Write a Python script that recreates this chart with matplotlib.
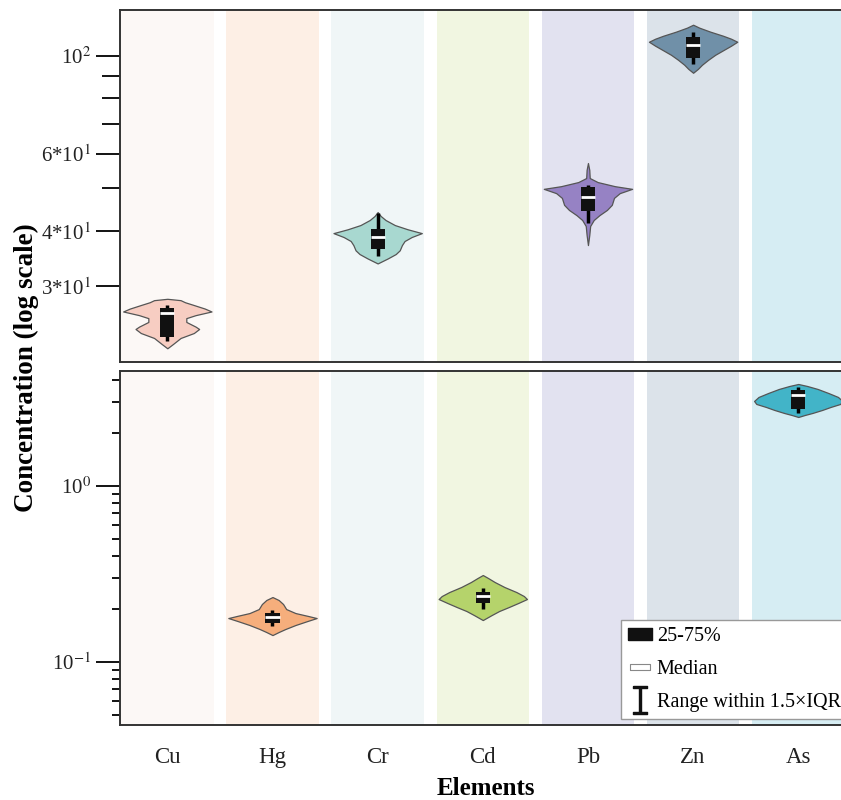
import matplotlib
matplotlib.use("Agg")
import matplotlib.pyplot as plt
import numpy as np
from matplotlib.ticker import FixedLocator, FixedFormatter, NullFormatter, LogLocator
from matplotlib.lines import Line2D

# ---- data ----
elements = ["Cu", "Hg", "Cr", "Cd", "Pb", "Zn", "As"]

# box stats : whisker low, Q1, median, Q3, whisker high
cu_box = [22.5, 23.0, 26.1, 26.8, 27.2]
hg_box = [0.160, 0.167, 0.180, 0.190, 0.197]
cr_box = [35.1, 36.4, 38.8, 40.4, 44.0]
cd_box = [0.200, 0.216, 0.237, 0.250, 0.263]
pb_box = [41.7, 44.4, 47.8, 50.4, 50.9]
zn_box = [95.9, 99.0, 105.9, 110.4, 113.4]
as_box = [2.60, 2.74, 3.29, 3.51, 3.65]

# violin outlines : concentration / relative density
cu_vals = [28.1, 27.9, 27.6, 27.2, 26.7, 26.3, 25.8, 25.4, 24.9, 24.3, 24.0, 23.5, 22.9, 22.2, 21.7]
cu_dens = [0, 0.3, 0.4, 0.6, 0.85, 1.0, 0.64, 0.43, 0.43, 0.64, 0.72, 0.6, 0.3, 0.13, 0]

hg_vals = [0.234, 0.2251, 0.2136, 0.200, 0.1898, 0.1826, 0.1778, 0.171, 0.1623, 0.154, 0.1481, 0.1423]
hg_dens = [0, 0.14, 0.24, 0.31, 0.52, 0.81, 1.0, 0.79, 0.52, 0.29, 0.14, 0]

cr_vals = [44.2, 43.3, 42.4, 41.3, 40.4, 39.6, 38.8, 38.0, 37.2, 36.2, 35.5, 34.7, 33.8]
cr_dens = [0, 0.07, 0.18, 0.39, 0.68, 1.0, 0.77, 0.61, 0.55, 0.5, 0.41, 0.23, 0]

cd_vals = [0.3121, 0.3001, 0.2848, 0.2668, 0.2498, 0.2371, 0.228, 0.2164, 0.2054, 0.1949, 0.1849, 0.1732]
cd_dens = [0, 0.12, 0.27, 0.49, 0.76, 0.93, 1.0, 0.8, 0.59, 0.37, 0.2, 0]

pb_vals = [57.1, 55.1, 52.8, 51.7, 50.6, 49.9, 48.8, 47.6, 45.9, 44.7, 43.5, 42.4, 41.1, 39.2, 37.2]
pb_dens = [0, 0.03, 0.04, 0.22, 0.61, 1.0, 0.72, 0.59, 0.54, 0.43, 0.26, 0.13, 0.05, 0.03, 0]

zn_vals = [117.6, 115.8, 113.4, 111.0, 109.3, 107.6, 105.4, 103.2, 100.5, 97.9, 95.4, 93.4, 91.5]
zn_dens = [0, 0.14, 0.39, 0.68, 0.86, 1.0, 0.86, 0.70, 0.5, 0.34, 0.2, 0.11, 0]

as_vals = [3.797, 3.70, 3.557, 3.376, 3.204, 3.041, 2.924, 2.811, 2.703, 2.599, 2.532, 2.466]
as_dens = [0, 0.2, 0.44, 0.68, 0.9, 1.0, 0.95, 0.73, 0.54, 0.32, 0.15, 0]

boxes = [cu_box, hg_box, cr_box, cd_box, pb_box, zn_box, as_box]
vals = [cu_vals, hg_vals, cr_vals, cd_vals, pb_vals, zn_vals, as_vals]
dens = [cu_dens, hg_dens, cr_dens, cd_dens, pb_dens, zn_dens, as_dens]

fill_cols = ["#f7cdc2", "#f6ae7c", "#a8d8d0", "#b5d36b", "#9682c4", "#7090a8", "#42b4c8"]
band_cols = ["#fcf8f6", "#fdefe5", "#f0f6f7", "#f1f6e1", "#e2e2f0", "#dce3ea", "#d6edf3"]

# ---- style ----
plt.rcParams['font.family'] = ['Liberation Serif', 'DejaVu Serif']
plt.rcParams['mathtext.fontset'] = 'stix'

fig = plt.figure(figsize=(8.41, 8.0), dpi=100)
ax_top = fig.add_axes([0.1427, 0.5475, 0.869, 0.44])
ax_bot = fig.add_axes([0.1427, 0.09375, 0.869, 0.4425])

half_w = 0.42
box_w = 0.135
pos = np.arange(len(elements))

for ax in (ax_top, ax_bot):
    ax.set_yscale('log')
    ax.set_xlim(-0.45, 6.5)
    for i in pos:
        ax.axvspan(i - 0.44, i + 0.44, color=band_cols[i], lw=0, zorder=0)
    for s in ax.spines.values():
        s.set_linewidth(1.4)
        s.set_color('#333333')

for i in pos:
    b = boxes[i]
    ax = ax_top if b[2] > 10 else ax_bot
    v = np.array(vals[i])
    d = np.array(dens[i]) * half_w
    ax.fill_betweenx(v, i - d, i + d, facecolor=fill_cols[i], edgecolor='#555555', lw=0.9, zorder=2)
    ax.vlines(i, b[0], b[4], color='black', lw=2.5, zorder=3)
    ax.bar(i, b[3] - b[1], bottom=b[1], width=box_w, color='#111111', zorder=4)
    ax.hlines(b[2], i - box_w / 2, i + box_w / 2, color='white', lw=2, zorder=5)

# top panel axis
ax_top.set_ylim(20.2, 127)
ax_top.yaxis.set_major_locator(FixedLocator([30, 40, 60, 100]))
ax_top.yaxis.set_major_formatter(FixedFormatter(['3*10$^1$', '4*10$^1$', '6*10$^1$', '10$^2$']))
ax_top.yaxis.set_minor_locator(FixedLocator([50, 70, 80, 90]))
ax_top.yaxis.set_minor_formatter(NullFormatter())
ax_top.tick_params(axis='y', which='major', length=17, width=1.3, labelsize=15, pad=4, labelcolor='#222222')
ax_top.tick_params(axis='y', which='minor', length=13, width=1.3)
ax_top.set_xticks([])

# bottom panel axis
ax_bot.set_ylim(0.0439, 4.5)
ax_bot.yaxis.set_major_locator(FixedLocator([0.1, 1]))
ax_bot.yaxis.set_major_formatter(FixedFormatter(['10$^{-1}$', '10$^0$']))
ax_bot.yaxis.set_minor_locator(LogLocator(base=10, subs=np.arange(2, 10)))
ax_bot.yaxis.set_minor_formatter(NullFormatter())
ax_bot.tick_params(axis='y', which='major', length=17, width=1.3, labelsize=15, pad=4, labelcolor='#222222')
ax_bot.tick_params(axis='y', which='minor', length=6, width=1.3)
ax_bot.set_xticks(pos)
ax_bot.set_xticklabels(elements)
ax_bot.tick_params(axis='x', length=0, labelsize=16.5, pad=16, labelcolor='#222222')
ax_bot.set_xlabel("Elements", fontsize=18, fontweight='bold', labelpad=6)

fig.text(0.032, 0.541, "Concentration (log scale)", rotation=90, fontsize=19.5,
         fontweight='bold', ha='center', va='center')

# legend
box_mk = [(-1, -0.55), (1, -0.55), (1, 0.55), (-1, 0.55), (-1, -0.55)]
med_mk = [(-1, -0.3), (1, -0.3), (1, 0.3), (-1, 0.3), (-1, -0.3)]
ibeam = [(-0.5, 1), (0.5, 1), (0.5, 0.88), (0.07, 0.88), (0.07, -0.88), (0.5, -0.88),
         (0.5, -1), (-0.5, -1), (-0.5, -0.88), (-0.07, -0.88), (-0.07, 0.88), (-0.5, 0.88), (-0.5, 1)]
handles = [
    Line2D([], [], ls='none', marker=box_mk, markersize=17, markerfacecolor='#111111', markeredgecolor='#111111'),
    Line2D([], [], ls='none', marker=med_mk, markersize=14, markerfacecolor='white', markeredgecolor='#888888', markeredgewidth=0.8),
    Line2D([], [], ls='none', marker=ibeam, markersize=20, markerfacecolor='#111111', markeredgecolor='#111111'),
]
leg = ax_bot.legend(handles, ["25-75%", "Median", "Range within 1.5\u00d7IQR"],
                    loc='upper left', bbox_to_anchor=(0.685, 0.297), fontsize=14.5,
                    frameon=True, fancybox=False, edgecolor='#999999', framealpha=1,
                    handlelength=1.2, handletextpad=0.25, labelspacing=0.7,
                    borderpad=0.35, borderaxespad=0)
leg.get_frame().set_linewidth(1.0)

fig.savefig("out.png", dpi=100)
